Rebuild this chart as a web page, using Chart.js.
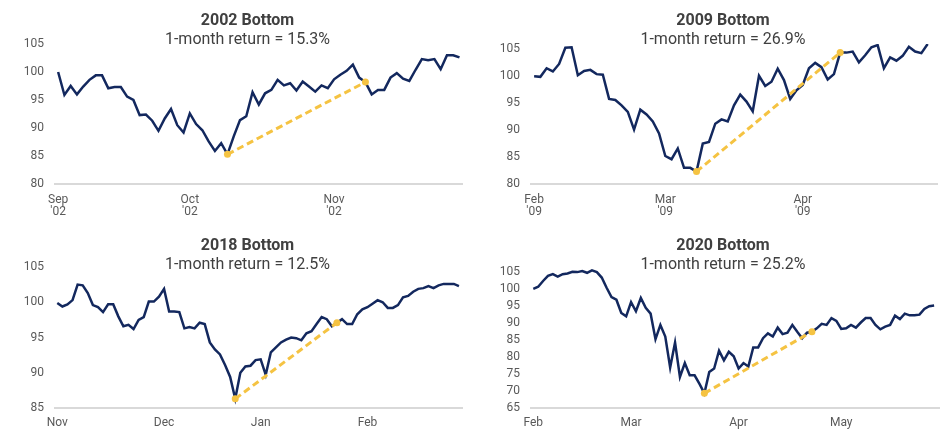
<!DOCTYPE html>
<html>
<head>
<meta charset="utf-8">
<script src="https://cdn.jsdelivr.net/npm/chart.js@4.4.1/dist/chart.umd.min.js"></script>
<style>
    html, body { margin: 0; padding: 0; background: #ffffff; }
    #wrap { position: relative; width: 947px; height: 433px; overflow: hidden; }
    canvas { position: absolute; }
</style>
</head>
<body>
<div id="wrap">
    <canvas id="c2002" width="473" height="222" style="left:0;top:0"></canvas>
    <canvas id="c2009" width="474" height="222" style="left:473px;top:0"></canvas>
    <canvas id="c2018" width="473" height="211" style="left:0;top:222px"></canvas>
    <canvas id="c2020" width="474" height="211" style="left:473px;top:222px"></canvas>
</div>
<script>
// index level, rebased to 100 at the start of each window (one value per trading day)
const values2002 = [100.0, 95.9, 97.5, 96.0, 97.4, 98.6, 99.4, 99.4, 97.1, 97.3, 97.3, 95.6, 95.0, 92.3, 92.4, 91.3,
    89.5, 91.7, 93.4, 90.5, 89.2, 92.6, 90.7, 89.6, 87.6, 85.9, 87.3, 85.3, 88.5, 91.4, 92.1, 96.4, 94.2, 96.2, 96.8,
    98.6, 97.6, 98.0, 96.7, 98.3, 97.4, 96.5, 97.6, 97.1, 98.7, 99.5, 100.2, 101.3, 99.0, 98.2, 96.0, 96.8, 96.8, 99.0,
    99.8, 98.8, 98.4, 100.4, 102.3, 102.1, 102.3, 100.5, 103.0, 103.0, 102.6];
const values2009 = [100.0, 99.9, 101.5, 100.9, 102.3, 105.3, 105.4, 100.2, 101.0, 101.2, 100.4, 100.3, 95.8, 95.6,
    94.6, 93.4, 90.1, 93.8, 92.9, 91.6, 89.4, 85.2, 84.6, 86.6, 83.0, 83.0, 82.3, 87.5, 87.8, 91.2, 92.0, 91.6, 94.6,
    96.6, 95.3, 93.5, 100.1, 98.2, 99.0, 101.4, 99.3, 95.8, 97.4, 98.4, 101.5, 102.5, 101.7, 99.4, 100.4, 104.4, 104.4,
    104.6, 102.6, 103.9, 105.4, 105.8, 101.5, 103.5, 102.9, 103.8, 105.5, 104.6, 104.3, 106.0];
const values2018 = [99.9, 99.4, 99.7, 100.3, 102.5, 102.4, 101.3, 99.6, 99.3, 98.6, 99.7, 99.7, 98.0, 96.6, 96.8, 96.2,
    97.5, 97.9, 100.1, 100.1, 100.8, 101.9, 98.7, 98.7, 98.6, 96.3, 96.5, 96.3, 97.1, 96.9, 94.3, 93.3, 92.6, 91.1, 89.4,
    86.3, 90.0, 90.9, 91.0, 91.8, 91.9, 89.7, 92.9, 93.6, 94.3, 94.7, 95.0, 94.9, 94.6, 95.6, 95.9, 96.9, 97.9, 97.6,
    96.6, 97.1, 97.6, 96.9, 96.9, 98.3, 99.0, 99.3, 99.8, 100.3, 100.0, 99.2, 99.2, 99.6, 100.7, 100.9, 101.5, 101.9,
    102.0, 102.3, 102.0, 102.4, 102.6, 102.6, 102.6, 102.3];
const values2020 = [100.0, 100.6, 102.3, 103.8, 104.3, 103.6, 104.3, 104.5, 105.0, 104.9, 105.2, 104.7, 105.4, 104.9,
    103.3, 100.3, 97.6, 96.8, 92.9, 91.9, 96.1, 93.4, 97.3, 94.4, 92.7, 85.2, 89.4, 86.0, 76.9, 84.2, 74.1, 78.2, 74.6,
    74.6, 72.1, 69.3, 75.6, 76.6, 81.8, 79.0, 81.5, 80.2, 76.6, 78.2, 77.2, 82.8, 82.8, 85.5, 86.9, 86.0, 88.6, 86.7,
    87.1, 89.4, 87.4, 85.5, 87.1, 87.4, 88.4, 89.7, 89.4, 91.4, 90.6, 88.2, 88.4, 89.4, 88.6, 90.1, 91.4, 91.4, 89.4,
    88.1, 88.9, 89.4, 92.1, 91.1, 92.7, 92.2, 92.2, 92.4, 94.1, 94.9, 95.1];

// month tick labels and the day index they sit on
const months2002 = [['Sep', "'02"], ['Oct', "'02"], ['Nov', "'02"]];
const monthDays2002 = [0, 21, 44];
const months2009 = [['Feb', "'09"], ['Mar', "'09"], ['Apr', "'09"]];
const monthDays2009 = [0, 21, 43];
const months2018 = ['Nov', 'Dec', 'Jan', 'Feb'];
const monthDays2018 = [0, 21, 40, 61];
const months2020 = ['Feb', 'Mar', 'Apr', 'May'];
const monthDays2020 = [0, 20, 42, 63];

// y axis tick values
const yTicks2002 = [80, 85, 90, 95, 100, 105];
const yTicks2009 = [80, 85, 90, 95, 100, 105];
const yTicks2018 = [85, 90, 95, 100, 105];
const yTicks2020 = [65, 70, 75, 80, 85, 90, 95, 100, 105];

// bottom day and the day one month later
const window2002 = [27, 49];
const window2009 = [26, 49];
const window2018 = [35, 55];
const window2020 = [35, 57];

const NAVY = '#13285e';
const GOLD = '#f5c342';
const TEXT = '#404040';
const TICK = '#595959';
const FONT = 'Roboto, "Noto Sans", sans-serif';

function makePanel(id, p) {
    const line = p.values.map((v, i) => ({ x: i, y: v }));
    const segment = p.window.map(i => ({ x: i, y: p.values[i] }));

    return new Chart(document.getElementById(id), {
        type: 'line',
        data: {
            datasets: [{
                data: segment,
                borderColor: GOLD,
                backgroundColor: GOLD,
                borderWidth: 3,
                borderDash: [7, 4],
                pointRadius: 3.5,
                pointBorderWidth: 0,
                order: 0
            }, {
                data: line,
                borderColor: NAVY,
                borderWidth: 2.5,
                pointRadius: 0,
                tension: 0,
                order: 1
            }]
        },
        options: {
            responsive: false,
            animation: false,
            layout: {
                padding: { left: p.padL, right: 0, top: 0, bottom: 0 }
            },
            plugins: {
                legend: { display: false },
                tooltip: { enabled: false },
                title: {
                    display: true,
                    text: p.title,
                    color: TEXT,
                    font: { family: FONT, size: 16, weight: 'bold', lineHeight: 1.2 },
                    padding: { top: p.titleTop, bottom: 0 }
                },
                subtitle: {
                    display: true,
                    text: p.subtitle,
                    color: TEXT,
                    font: { family: FONT, size: 16, lineHeight: 1.2 },
                    padding: { top: 0, bottom: p.subBottom }
                }
            },
            scales: {
                x: {
                    type: 'linear',
                    min: p.xMin,
                    max: p.xMax,
                    grid: { display: false, drawTicks: false },
                    border: { display: true, color: '#d9d9d9', width: 2 },
                    afterBuildTicks: s => { s.ticks = p.monthDays.map(v => ({ value: v })); },
                    afterFit: s => { s.height = p.xHeight; },
                    ticks: {
                        autoSkip: false,
                        maxRotation: 0,
                        padding: p.xPad,
                        color: TICK,
                        font: { family: FONT, size: 12, lineHeight: 1 },
                        callback: (v, i) => p.months[i]
                    }
                },
                y: {
                    min: p.yMin,
                    max: p.yMax,
                    grid: { display: false, drawTicks: false },
                    border: { display: false },
                    afterBuildTicks: s => { s.ticks = p.yTicks.map(v => ({ value: v })); },
                    afterFit: s => { s.width = p.yWidth; },
                    ticks: {
                        padding: 11,
                        color: TICK,
                        font: { family: FONT, size: 12 }
                    }
                },
                // empty strip on the right so the titles sit where the original has them
                gap: {
                    type: 'linear',
                    position: 'right',
                    grid: { display: false, drawTicks: false },
                    border: { display: false },
                    ticks: { display: false },
                    afterFit: s => { s.width = p.rightGap; }
                }
            }
        }
    });
}

makePanel('c2002', {
    title: '2002 Bottom', subtitle: '1-month return = 15.3%',
    values: values2002, months: months2002, monthDays: monthDays2002, window: window2002, yTicks: yTicks2002,
    xMin: -0.5, xMax: 64.4, yMin: 80, yMax: 105,
    padL: 22, yWidth: 33, rightGap: 11, titleTop: 11, subBottom: -5.4, xPad: 10, xHeight: 38
});
makePanel('c2009', {
    title: '2009 Bottom', subtitle: '1-month return = 26.9%',
    values: values2009, months: months2009, monthDays: monthDays2009, window: window2009, yTicks: yTicks2009,
    xMin: -0.5, xMax: 64.5, yMin: 80, yMax: 106,
    padL: 26, yWidth: 32, rightGap: 10, titleTop: 11, subBottom: -5.4, xPad: 10, xHeight: 38
});
makePanel('c2018', {
    title: '2018 Bottom', subtitle: '1-month return = 12.5%',
    values: values2018, months: months2018, monthDays: monthDays2018, window: window2018, yTicks: yTicks2018,
    xMin: -0.45, xMax: 79.6, yMin: 85, yMax: 105,
    padL: 22, yWidth: 33, rightGap: 11, titleTop: 14, subBottom: -7.4, xPad: 9, xHeight: 25
});
makePanel('c2020', {
    title: '2020 Bottom', subtitle: '1-month return = 25.2%',
    values: values2020, months: months2020, monthDays: monthDays2020, window: window2020, yTicks: yTicks2020,
    xMin: -0.47, xMax: 83, yMin: 65, yMax: 106.4,
    padL: 26, yWidth: 32, rightGap: 8, titleTop: 14, subBottom: -7.4, xPad: 9, xHeight: 25
});
</script>
</body>
</html>
